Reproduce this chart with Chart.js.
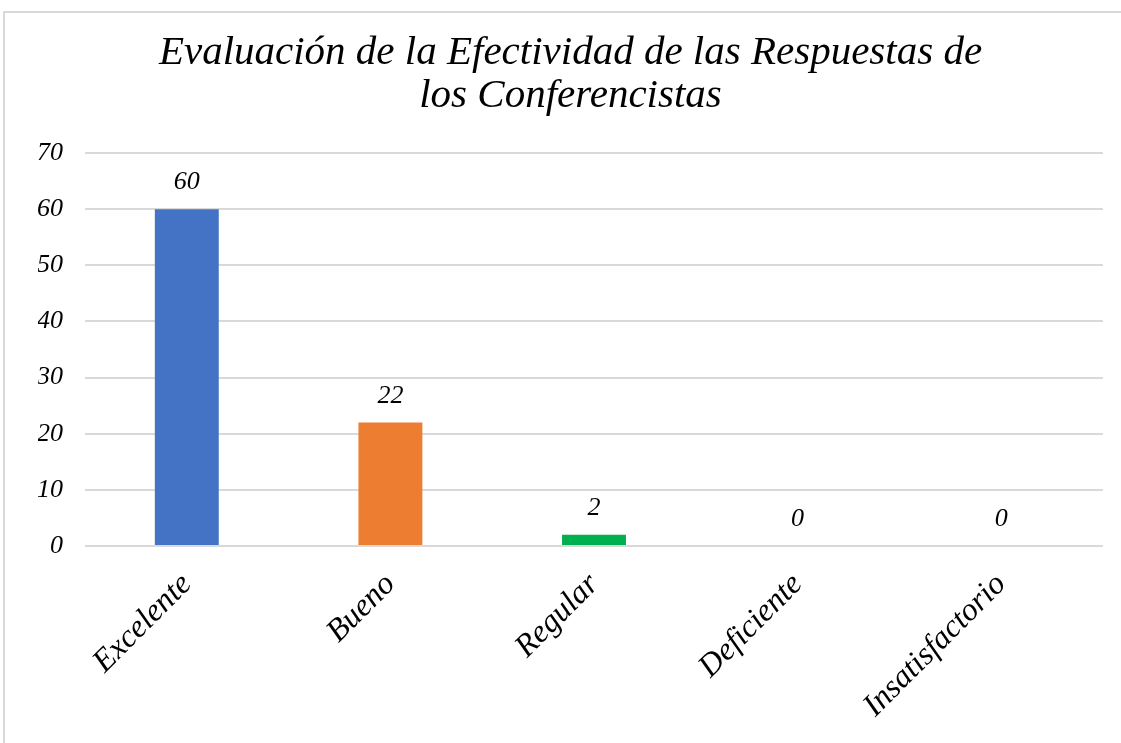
<!DOCTYPE html>
<html>
<head>
<meta charset="utf-8">
<script src="https://cdn.jsdelivr.net/npm/chart.js@4/dist/chart.umd.min.js"></script>
<style>
  html, body { margin: 0; padding: 0; background: #ffffff; overflow: hidden; }
  #frame { position: absolute; left: 3px; top: 11px; width: 1200px; height: 800px; border: 2px solid #d9d9d9; box-sizing: border-box; }
  #c { position: absolute; left: 0; top: 0; }
</style>
</head>
<body>
<div id="frame"></div>
<canvas id="c" width="1121" height="743"></canvas>
<script>
const categories = ["Excelente", "Bueno", "Regular", "Deficiente", "Insatisfactorio"];
const values = [60, 22, 2, 0, 0];
const barColors = ["#4472C4", "#ED7D31", "#00B050", "#A5A5A5", "#FFC000"];
const titleLines = ["Evaluación de la Efectividad de las Respuestas de", "los Conferencistas"];
const yMin = 0, yMax = 70, yStep = 10;

const fontFamily = "'Liberation Serif', 'DejaVu Serif', serif";

const valueLabels = {
  id: 'valueLabels',
  afterDatasetsDraw(chart) {
    const ctx = chart.ctx;
    const meta = chart.getDatasetMeta(0);
    ctx.save();
    ctx.font = "italic 26px " + fontFamily;
    ctx.fillStyle = "#000000";
    ctx.textAlign = "center";
    ctx.textBaseline = "alphabetic";
    meta.data.forEach((bar, i) => {
      ctx.fillText(String(values[i]), bar.x, bar.y - 20);
    });
    ctx.restore();
  }
};

new Chart(document.getElementById('c'), {
  type: 'bar',
  data: {
    labels: categories,
    datasets: [{
      data: values,
      backgroundColor: barColors,
      borderWidth: 0,
      categoryPercentage: 1,
      barPercentage: 0.314
    }]
  },
  options: {
    responsive: false,
    animation: false,
    layout: { padding: { left: 38, right: 18, top: 0, bottom: 0 } },
    plugins: {
      legend: { display: false },
      tooltip: { enabled: false },
      title: {
        display: true,
        text: titleLines,
        color: "#000000",
        font: { family: fontFamily, size: 41, style: 'italic', weight: 'normal', lineHeight: 1.05 },
        padding: { top: 32, bottom: 35 }
      }
    },
    scales: {
      x: {
        grid: { display: false, drawTicks: false },
        border: { display: false },
        ticks: {
          color: "#000000",
          font: { family: fontFamily, size: 32, style: 'italic' },
          maxRotation: 45, minRotation: 45,
          padding: 20
        },
        afterFit(s) { s.height = 197; }
      },
      y: {
        min: yMin, max: yMax,
        grid: { color: "#d9d9d9", lineWidth: 2, drawTicks: false },
        border: { display: false },
        ticks: {
          stepSize: yStep,
          color: "#000000",
          font: { family: fontFamily, size: 26, style: 'italic' },
          padding: 22
        },
        afterFit(s) { s.width = 47; }
      }
    }
  },
  plugins: [valueLabels]
});
</script>
</body>
</html>
